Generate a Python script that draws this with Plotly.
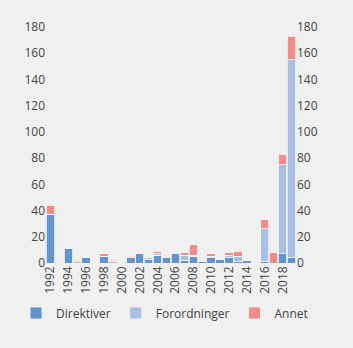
import plotly.graph_objects as go

years = list(range(1992, 2020))
direktiver = [37, 0, 11, 0, 4, 0, 5, 0, 0, 4, 7, 3, 6, 4, 7, 2, 5, 1, 4, 3, 4, 1, 2, 0, 1, 0, 7, 4]
forordninger = [0, 0, 0, 1, 0, 0, 0, 1, 0, 0, 0, 1, 1, 1, 1, 4, 1, 1, 1, 0, 2, 4, 1, 0, 25, 0, 68, 151]
annet = [7, 0, 0, 1, 0, 0, 2, 1, 0, 1, 0, 0, 2, 1, 0, 2, 8, 0, 2, 0, 2, 4, 0, 0, 7, 8, 8, 18]
tick_years = list(range(1992, 2020, 2))
y_ticks = list(range(0, 181, 20))

colors = {"Direktiver": "#6394d0", "Forordninger": "#a9bfe6", "Annet": "#f28c86"}
font = dict(family="Open Sans, sans-serif", size=12, color="#444444")

fig = go.Figure()
for name, vals in [("Direktiver", direktiver), ("Forordninger", forordninger), ("Annet", annet)]:
    fig.add_trace(go.Bar(x=years, y=vals, name=name, marker=dict(color=colors[name], line=dict(color="#f6f6f6", width=0.8))))
fig.add_trace(go.Scatter(x=[years[0]], y=[0], yaxis="y2", showlegend=False, mode="markers",
                         marker=dict(opacity=0), hoverinfo="skip"))

fig.update_layout(
    width=353, height=348,
    barmode="stack", bargap=0.05,
    paper_bgcolor="#f0f0f0", plot_bgcolor="#f0f0f0",
    margin=dict(l=46, r=57, t=27, b=85),
    font=font,
    xaxis=dict(range=[1991.5, 2019.5], tickvals=tick_years, tickangle=-90, showgrid=False,
               zeroline=False, showline=False, ticks="", tickfont=font, automargin=False),
    yaxis=dict(range=[0, 180], tickvals=y_ticks, showgrid=False, zeroline=False, ticks="",
               tickfont=font, automargin=False),
    yaxis2=dict(range=[0, 180], tickvals=y_ticks, overlaying="y", side="right", showgrid=False,
                zeroline=False, ticks="", tickfont=font, automargin=False),
    legend=dict(orientation="h", x=-0.12, xanchor="left", y=-0.212, yanchor="middle",
                font=dict(family="Open Sans, sans-serif", size=12, color="#444444"),
                traceorder="normal", itemwidth=30, tracegroupgap=0),
)
fig.write_html("out.html")
